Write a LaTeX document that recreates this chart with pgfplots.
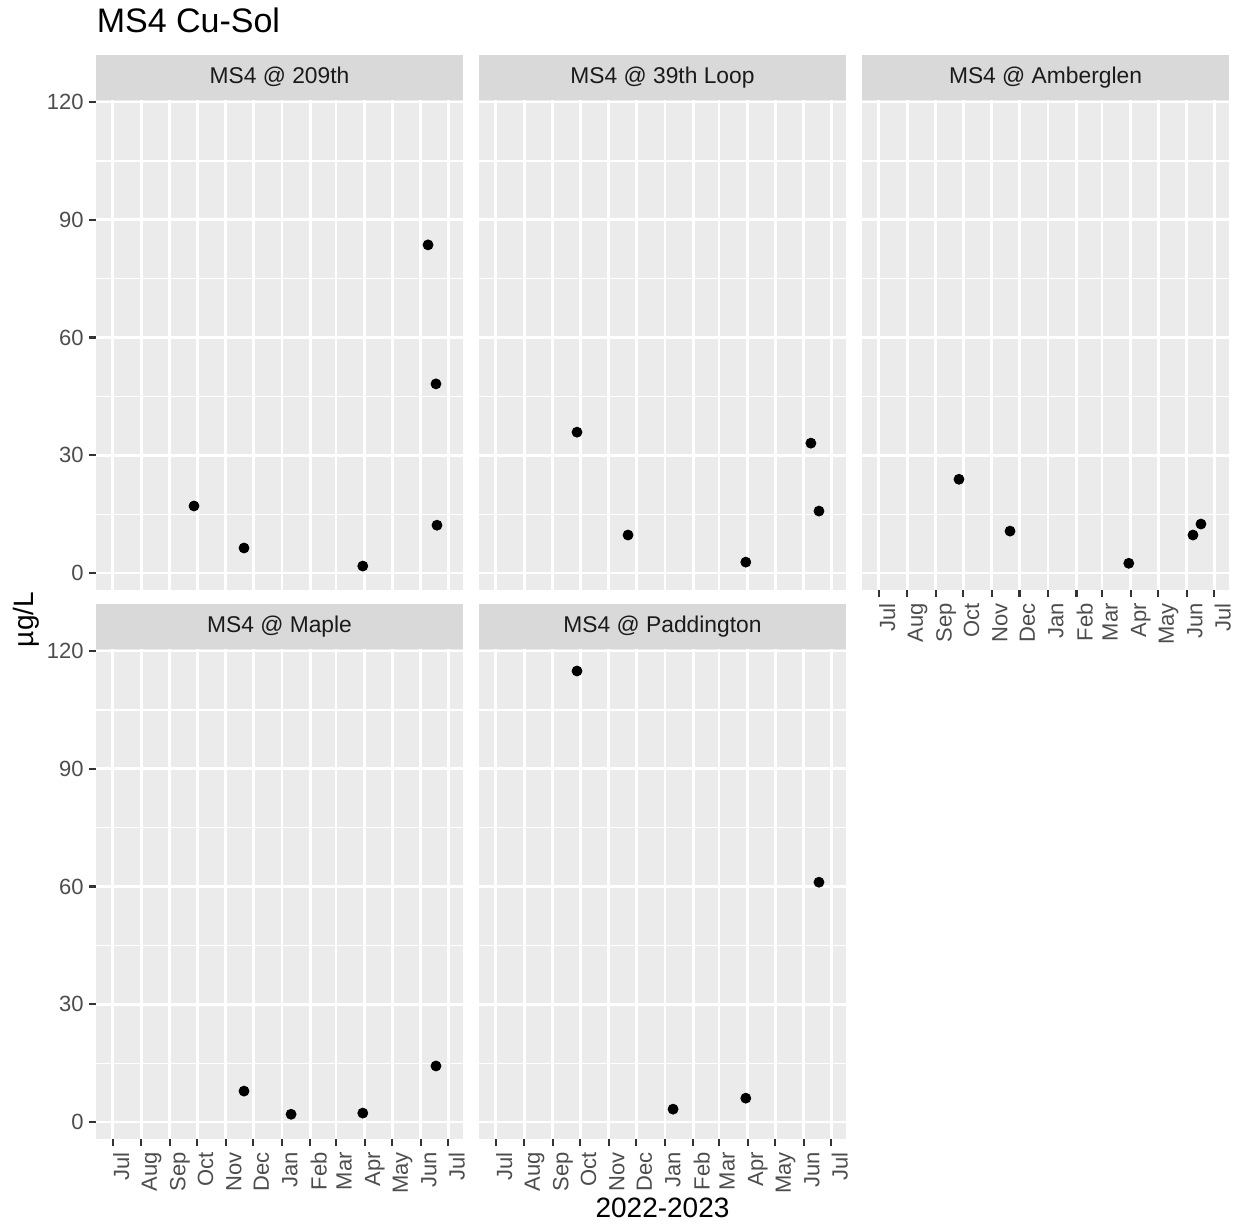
\documentclass[border=0pt]{standalone}
\usepackage{pgfplots}
\pgfplotsset{compat=1.18}
\usepackage{fontspec}
\setmainfont{Liberation Sans}
\definecolor{panelbg}{HTML}{EBEBEB}
\definecolor{stripbg}{HTML}{D9D9D9}
\definecolor{ticklab}{HTML}{4D4D4D}
\definecolor{tickcol}{HTML}{333333}
\definecolor{striptxt}{HTML}{1A1A1A}

\pgfplotsset{
 facet/.style={
  scale only axis, width=183.5pt, height=245pt,
  anchor=north west,
  xmin=-18.2, xmax=381, ymin=-4.3, ymax=120.5,
  axis background/.style={fill=panelbg},
  axis line style={draw=none},
  xtick={0,31,62,92,123,153,184,215,243,274,304,335,365},
  xticklabels={Jul,Aug,Sep,Oct,Nov,Dec,Jan,Feb,Mar,Apr,May,Jun,Jul},
  ytick={0,30,60,90,120},
  yticklabels={0,30,60,90,120},
  minor ytick={15,45,75,105},
  grid=both,
  major grid style={white, line width=1.35pt},
  minor grid style={white, line width=0.7pt},
  tick align=outside,
  tick pos=left,
  major tick length=3.5pt,
  minor tick length=0pt,
  tick style={tickcol, line width=1.1pt},
  /pgf/number format/assume math mode=true,
  xticklabel style={rotate=90, anchor=north east, font=\fontsize{11}{13}\selectfont, text=ticklab, inner sep=0pt, xshift=-3pt},
  yticklabel style={anchor=east, font=\fontsize{11}{13}\selectfont, text=ticklab, inner sep=0pt, xshift=-2.5pt},
  clip=true,
 },
 nox/.style={xticklabels={}, xtick style={draw=none}},
 noy/.style={yticklabels={}, ytick style={draw=none}},
 pts/.style={only marks, mark=*, mark size=2.5pt, mark options={black, fill=black, draw=black}},
}

\begin{document}
\begin{tikzpicture}
\path[use as bounding box] (0,0) rectangle (621.5pt,-613pt);

% Panel 1: MS4 @ 209th
\begin{axis}[facet, nox, at={(48pt,-50pt)}]
\addplot[pts] coordinates {(88.4,17.1) (142.8,6.4) (272,1.8) (343,83.6) (351.6,48.2) (352.7,12.2)};
\end{axis}

% Panel 2: MS4 @ 39th Loop
\begin{axis}[facet, nox, noy, at={(239.5pt,-50pt)}]
\addplot[pts] coordinates {(88.4,35.9) (143.9,9.7) (272,2.8) (342.8,33.1) (351.6,15.8)};
\end{axis}

% Panel 3: MS4 @ Amberglen
\begin{axis}[facet, noy, at={(431pt,-50pt)}]
\addplot[pts] coordinates {(87.3,23.9) (142.8,10.7) (272,2.5) (341.8,9.7) (350.5,12.5)};
\end{axis}

% Panel 4: MS4 @ Maple
\begin{axis}[facet, at={(48pt,-324.5pt)}]
\addplot[pts] coordinates {(142.8,7.9) (194,2.0) (272,2.3) (351.6,14.3)};
\end{axis}

% Panel 5: MS4 @ Paddington
\begin{axis}[facet, noy, at={(239.5pt,-324.5pt)}]
\addplot[pts] coordinates {(88.4,114.9) (192.9,3.3) (272,6.1) (351.6,61.1)};
\end{axis}

% strips
\fill[stripbg] (48pt,-27.5pt) rectangle (231.5pt,-50pt);
\fill[stripbg] (239.5pt,-27.5pt) rectangle (423pt,-50pt);
\fill[stripbg] (431pt,-27.5pt) rectangle (614.5pt,-50pt);
\fill[stripbg] (48pt,-302pt) rectangle (231.5pt,-324.5pt);
\fill[stripbg] (239.5pt,-302pt) rectangle (423pt,-324.5pt);
\begin{scope}[every node/.style={anchor=base, inner sep=0pt, text=striptxt, font=\fontsize{11.4}{13}\selectfont}]
\node at (139.75pt,-41.7pt) {MS4 @ 209th};
\node at (331.25pt,-41.7pt) {MS4 @ 39th Loop};
\node at (522.75pt,-41.7pt) {MS4 @ Amberglen};
\node at (139.75pt,-316.2pt) {MS4 @ Maple};
\node at (331.25pt,-316.2pt) {MS4 @ Paddington};
\end{scope}

% title and axis titles
\node[anchor=base west, inner sep=0pt, font=\fontsize{17}{20}\selectfont] at (48.2pt,-16.3pt) {MS4 Cu-Sol};
\node[anchor=base, inner sep=0pt, font=\fontsize{14}{16}\selectfont] at (331.25pt,-608.5pt) {2022-2023};
\node[anchor=base, rotate=90, inner sep=0pt, font=\fontsize{14}{16}\selectfont] at (16.5pt,-309.75pt) {µg/L};
\end{tikzpicture}
\end{document}
